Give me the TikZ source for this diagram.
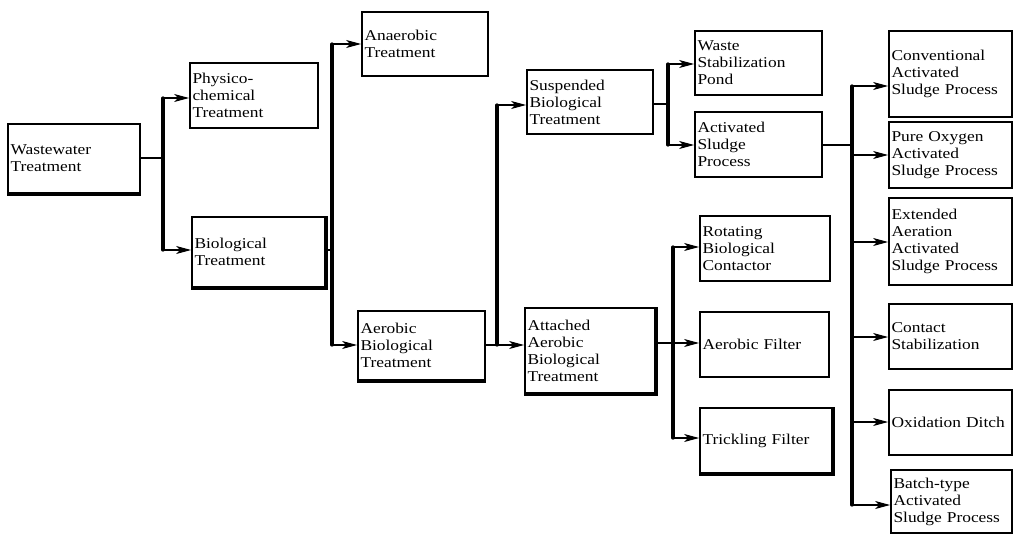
\documentclass[tikz,border=0pt]{standalone}
\usepackage{fontspec}
\setmainfont{Liberation Serif}[FakeStretch=1.16]
\usetikzlibrary{arrows.meta}
\begin{document}
\begin{tikzpicture}[x=1pt,y=-1pt,
  box/.style={draw,line width=1.8pt,align=left,inner xsep=2.5pt,inner ysep=2pt,
    font=\fontsize{15}{17}\selectfont},
  link/.style={line width=1.1pt},
  bus/.style={line width=3.2pt,line cap=round},
  arr/.style={line width=1.1pt,-{Stealth[length=15pt,width=8pt,inset=4pt]}},
  shad/.style={line width=3.4pt}]
\useasboundingbox (0,0) rectangle (1014,535);
\tikzset{bx/.style n args={4}{box,minimum width=#3,minimum height=#4,text width=#3-5pt}}
% nodes
\node[bx={}{}{132pt}{69pt}] (ww) at (74,158.5) {Wastewater\\Treatment};
\node[bx={}{}{128pt}{65pt}] (phys) at (254,95.5) {Physico-\\chemical\\Treatment};
\node[bx={}{}{133pt}{70pt}] (bio) at (258.5,252) {Biological\\Treatment};
\node[bx={}{}{126pt}{64pt}] (anaer) at (425,44) {Anaerobic\\Treatment\\[17pt]};
\node[bx={}{}{127pt}{69pt}] (aer) at (421.5,345.5) {Aerobic\\Biological\\Treatment};
\node[bx={}{}{126pt}{64pt}] (susp) at (590,102) {Suspended\\Biological\\Treatment};
\node[bx={}{}{130pt}{85pt}] (att) at (590,350.5) {Attached\\Aerobic\\Biological\\Treatment};
\node[bx={}{}{127pt}{64pt}] (wsp) at (758.5,63) {Waste\\Stabilization\\Pond};
\node[bx={}{}{127pt}{65pt}] (asp) at (758.5,144.5) {Activated\\Sludge\\Process};
\node[bx={}{}{130pt}{65pt}] (rbc) at (765,248.5) {Rotating\\Biological\\Contactor};
\node[bx={}{}{129pt}{65pt}] (af) at (764.5,344.5) {Aerobic~Filter};
\node[bx={}{}{132pt}{65pt}] (tf) at (766,440.5) {Trickling~Filter};
\node[bx={}{}{123pt}{86pt}] (conv) at (950.5,74) {Conventional\\Activated\\Sludge~Process};
\node[bx={}{}{123pt}{66pt}] (pure) at (950.5,155) {Pure~Oxygen\\Activated\\Sludge~Process};
\node[bx={}{}{123pt}{87pt}] (ext) at (950.5,241.5) {Extended\\Aeration\\Activated\\Sludge~Process};
\node[bx={}{}{123pt}{65pt}] (cont) at (950.5,336.5) {Contact\\Stabilization};
\node[bx={}{}{123pt}{65pt}] (ox) at (950.5,422.5) {Oxidation~Ditch};
\node[bx={}{}{121pt}{63pt}] (batch) at (951.5,501.5) {Batch-type\\Activated\\Sludge~Process};
% shadows
\draw[shad] (ww.south west) -- (ww.south east);
\draw[shad] (aer.south west) -- (aer.south east);
\foreach \n in {bio,att,tf}{\draw[shad] (\n.south west) -- (\n.south east) -- (\n.north east);}
% bus coordinates
\coordinate (b1t) at (163,98);  \coordinate (b1m) at (163,158); \coordinate (b1b) at (163,250);
\coordinate (b2t) at (332,44);  \coordinate (b2m) at (332,250); \coordinate (b2b) at (332,345);
\coordinate (b3t) at (497,105); \coordinate (b3b) at (497,345);
\coordinate (b4t) at (668,64);  \coordinate (b4m) at (668,104); \coordinate (b4b) at (668,145);
\coordinate (b5t) at (673,247); \coordinate (b5m) at (673,343); \coordinate (b5b) at (673,438);
\coordinate (b6a) at (852,86);  \coordinate (b6m) at (852,145); \coordinate (b6b) at (852,155);
\coordinate (b6c) at (852,242); \coordinate (b6d) at (852,337); \coordinate (b6e) at (852,422);
\coordinate (b6f) at (852,505);
% buses
\draw[bus] (b1t) -- (b1b);
\draw[bus] (b2t) -- (b2b);
\draw[bus] (b3t) -- (b3b);
\draw[bus] (b4t) -- (b4b);
\draw[bus] (b5t) -- (b5b);
\draw[bus] (b6a) -- (b6f);
% feeds
\draw[link] (ww.east |- b1m) -- (b1m);
\draw[link] (bio.east |- b2m) -- (b2m);
\draw[link] (aer.east |- b3b) -- (b3b);
\draw[link] (susp.east |- b4m) -- (b4m);
\draw[link] (att.east |- b5m) -- (b5m);
\draw[link] (asp.east |- b6m) -- (b6m);
% arrows
\draw[arr] (b1t) -- (b1t -| phys.west);
\draw[arr] (b1b) -- (b1b -| bio.west);
\draw[arr] (b2t) -- (b2t -| anaer.west);
\draw[arr] (b2b) -- (b2b -| aer.west);
\draw[arr] (b3t) -- (b3t -| susp.west);
\draw[arr] (b3b) -- (b3b -| att.west);
\draw[arr] (b4t) -- (b4t -| wsp.west);
\draw[arr] (b4b) -- (b4b -| asp.west);
\draw[arr] (b5t) -- (b5t -| rbc.west);
\draw[arr] (b5m) -- (b5m -| af.west);
\draw[arr] (b5b) -- (b5b -| tf.west);
\draw[arr] (b6a) -- (b6a -| conv.west);
\draw[arr] (b6b) -- (b6b -| pure.west);
\draw[arr] (b6c) -- (b6c -| ext.west);
\draw[arr] (b6d) -- (b6d -| cont.west);
\draw[arr] (b6e) -- (b6e -| ox.west);
\draw[arr] (b6f) -- (b6f -| batch.west);
\end{tikzpicture}
\end{document}
